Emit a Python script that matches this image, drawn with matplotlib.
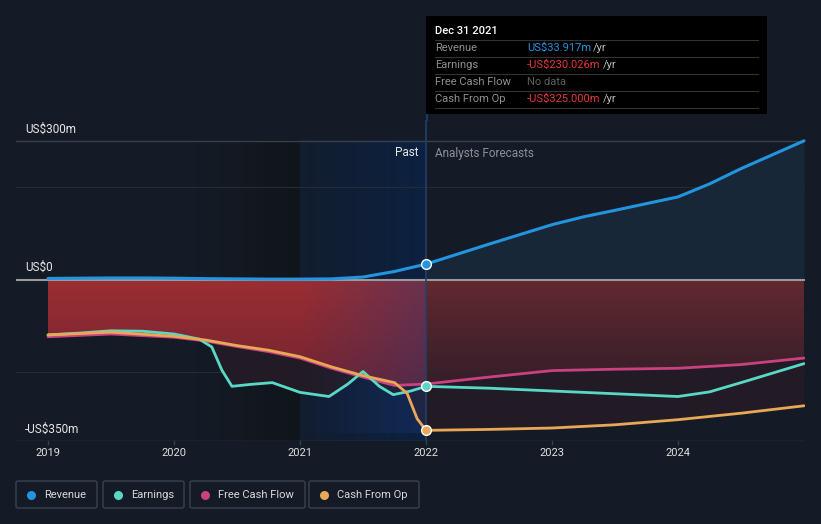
import matplotlib
matplotlib.use('Agg')
import matplotlib.pyplot as plt
import numpy as np
from matplotlib.patches import Rectangle, FancyBboxPatch, Polygon

plt.rcParams['font.family'] = ['Roboto', 'DejaVu Sans']

# data (US$ m)
rev_x = [2019.0, 2019.25, 2019.5, 2019.75, 2020.0, 2020.25, 2020.5, 2020.75, 2021.0, 2021.25, 2021.5, 2021.75, 2022.0,
         2022.5, 2023.0, 2023.25, 2023.5, 2024.0, 2024.25, 2024.5, 2025.0]
rev_y = [3, 3.5, 4, 4, 3.5, 2.5, 2, 1.5, 1.5, 2, 6, 18, 33.9,
         77, 119, 136, 150, 179, 207, 240, 300]

earn_x = [2019.0, 2019.25, 2019.5, 2019.75, 2020.0, 2020.2, 2020.3, 2020.38, 2020.46, 2020.6, 2020.78, 2021.0, 2021.23,
          2021.38, 2021.5, 2021.63, 2021.74, 2021.88, 2022.0, 2022.5, 2023.0, 2023.5, 2024.0, 2024.25, 2024.5, 2025.0]
earn_y = [-119, -115, -110, -111, -117, -128, -145, -195, -230, -226, -222, -243, -252,
          -225, -198, -230, -248, -240, -230, -234, -240, -246, -252, -242, -222, -181]

fcf_x = [2019.0, 2019.5, 2020.0, 2020.25, 2020.5, 2020.75, 2021.0, 2021.25, 2021.5, 2021.75, 2022.0,
         2022.5, 2023.0, 2023.5, 2024.0, 2024.5, 2025.0]
fcf_y = [-123, -117, -124, -132, -144, -155, -169, -191, -210, -228, -225,
         -210, -196, -193, -191, -183, -169]

cfo_x = [2019.0, 2019.5, 2020.0, 2020.25, 2020.5, 2020.75, 2021.0, 2021.25, 2021.5, 2021.75, 2021.85, 2021.93, 2022.0,
         2022.5, 2023.0, 2023.5, 2024.0, 2024.5, 2025.0]
cfo_y = [-119, -113, -122, -130, -142, -152, -166, -188, -207, -222, -245, -300, -325,
         -323, -320, -313, -302, -288, -272]

years = [2019, 2020, 2021, 2022, 2023, 2024]

BG = '#151b26'
C_REV = '#2394df'
C_EARN = '#5ad8c6'
C_FCF = '#c9417f'
C_CFO = '#e8a857'

W, H = 821, 524
fig = plt.figure(figsize=(W / 100, H / 100), dpi=100, facecolor=BG)


def fx(px):
    return px / W


def fy(py):
    return 1 - py / H


# axes: pixel x 16..805, pixel y 120..441
ax = fig.add_axes([fx(16), fy(441), fx(805) - fx(16), (441 - 120) / H])
ax.set_facecolor(BG)
x0 = 2019 - 32 / 126
x1 = 2019 + 757 / 126
ymin, ymax = -348, 345
ax.set_xlim(x0, x1)
ax.set_ylim(ymin, ymax)
for s in ax.spines.values():
    s.set_visible(False)
ax.set_xticks([])
ax.set_yticks([])

# past shading: dark band then blue gradient up to 2022
dark = np.clip(np.linspace(-0.2, 1, 60), 0, 1).reshape(1, -1)
ax.imshow(np.dstack([np.full_like(dark, 0.06), np.full_like(dark, 0.075), np.full_like(dark, 0.095), dark * 0.75]),
          extent=[2020.0, 2021.0, ymin, 300], aspect='auto', zorder=0.5)
blue = np.linspace(0, 1, 80).reshape(1, -1)
ax.imshow(np.dstack([np.full_like(blue, 0.04), np.full_like(blue, 0.14), np.full_like(blue, 0.28), 0.25 + blue * 0.55]),
          extent=[2021.0, 2022.0, ymin, 300], aspect='auto', zorder=0.6)

# grid lines
for v, c, lw in [(300, '#3a404b', 1.0), (200, '#262c36', 0.8), (-200, '#262c36', 0.8), (ymin + 1, '#3a404b', 1.0)]:
    ax.axhline(v, color=c, lw=lw, zorder=1)

# revenue fill (forecast)
rx = np.array(rev_x)
ry = np.array(rev_y)
ax.fill_between(rx, 0, ry, where=rx >= 2022, color='#172738', lw=0, zorder=1.2)

# red fill from zero down to free cash flow, with gradient
fxv = np.array(fcf_x)
fyv = np.array(fcf_y)
poly = Polygon(np.vstack([[[fxv[0], 0]], np.column_stack([fxv, fyv]), [[fxv[-1], 0]]]), closed=True,
               facecolor='none', edgecolor='none')
ax.add_patch(poly)
grad = np.linspace(1, 0, 100).reshape(-1, 1)


def grad_img(top, bot):
    top = np.array(top)
    bot = np.array(bot)
    return np.dstack([bot[0] + (top[0] - bot[0]) * grad, bot[1] + (top[1] - bot[1]) * grad,
                      bot[2] + (top[2] - bot[2]) * grad, np.full_like(grad, 1.0)])


im = ax.imshow(grad_img([0.61, 0.18, 0.20], [0.45, 0.14, 0.19]), extent=[2019, 2022, -230, 0],
               aspect='auto', zorder=1.3)
im.set_clip_path(poly)
im2 = ax.imshow(grad_img([0.39, 0.16, 0.19], [0.20, 0.12, 0.16]), extent=[2022, x1, -232, 0],
                aspect='auto', zorder=1.3)
im2.set_clip_path(poly)

# darker fill between fcf and lowest of earnings / cfo
grid_x = np.linspace(2019, 2025, 400)
fcf_g = np.interp(grid_x, fcf_x, fcf_y)
low = np.minimum(np.interp(grid_x, earn_x, earn_y), np.interp(grid_x, cfo_x, cfo_y))
ax.fill_between(grid_x, fcf_g, low, where=low < fcf_g, color='#221b25', lw=0, zorder=1.25)

# blue highlight overlay on past area fills
ax.imshow(np.dstack([np.full_like(blue, 0.12), np.full_like(blue, 0.22), np.full_like(blue, 0.48), blue * 0.38]),
          extent=[2021.0, 2022.0, -330, 0], aspect='auto', zorder=1.4)

# zero line
ax.axhline(0, color='#9a9a9e', lw=1.5, zorder=2)

# series lines
ax.plot(rev_x, rev_y, color=C_REV, lw=2.2, zorder=4, solid_capstyle='round', clip_on=False)
ax.plot(fcf_x, fcf_y, color=C_FCF, lw=2.0, zorder=3, solid_capstyle='round')
ax.plot(earn_x, earn_y, color=C_EARN, lw=2.0, zorder=3.2, solid_capstyle='round')
ax.plot(cfo_x, cfo_y, color=C_CFO, lw=2.0, zorder=3.4, solid_capstyle='round')

# past/forecast divider
ax.axvline(2022, color='#23406a', lw=1.2, zorder=2.5)
fig.add_artist(plt.Line2D([fx(427), fx(427)], [fy(114), fy(120)], color='#23406a', lw=1.2))

# markers at Dec 2021
for xv, yv, c in [(2022, 33.9, C_REV), (2022, -230, C_EARN), (2022, -325, C_CFO)]:
    ax.plot(xv, yv, 'o', ms=7, color=c, mec='white', mew=1, zorder=6, clip_on=False)

# x ticks
for yr in years:
    ax.plot([yr, yr], [ymin + 1, ymin - 6], color='#3a404b', lw=1, clip_on=False, zorder=2)
    fig.text(fx(48 + (yr - 2019) * 126), fy(453), str(yr), color='#e0e0e0', fontsize=8,
             ha='center', va='center')

# y labels
fig.text(fx(25), fy(129), 'US$300m', color='#e6e6e6', fontsize=8.5, va='center')
fig.text(fx(25), fy(267), 'US$0', color='#e6e6e6', fontsize=8.5, va='center')
fig.text(fx(25), fy(429), '-US$350m', color='#e6e6e6', fontsize=8.5, va='center')

fig.text(fx(418), fy(153), 'Past', color='#e6e6e6', fontsize=8.5, ha='right', va='center')
fig.text(fx(435), fy(153), 'Analysts Forecasts', color='#8c8f96', fontsize=8.5, ha='left', va='center')

# tooltip
fig.add_artist(Rectangle((fx(426), fy(114)), fx(767) - fx(426), (114 - 16) / H, facecolor='black',
                         edgecolor='none', transform=fig.transFigure, zorder=10))
fig.text(fx(435), fy(31), 'Dec 31 2021', color='white', fontsize=8, weight='medium', va='center', zorder=11)
for sy in [40, 57, 74, 91, 108]:
    fig.add_artist(plt.Line2D([fx(435), fx(758)], [fy(sy), fy(sy)], color='#333333', lw=0.8, zorder=11))
rows = [('Revenue', 'US$33.917m', C_REV, 593),
        ('Earnings', '-US$230.026m', '#e8383c', 603),
        ('Free Cash Flow', 'No data', '#5e5e5e', None),
        ('Cash From Op', '-US$325.000m', '#e8383c', 603)]
for i, (lab, val, col, yrx) in enumerate(rows):
    py = 48 + i * 17
    fig.text(fx(435), fy(py), lab, color='#8f8f8f', fontsize=8, va='center', zorder=11)
    fig.text(fx(527), fy(py), val, color=col, fontsize=8, va='center', zorder=11)
    if yrx:
        fig.text(fx(yrx), fy(py), '/yr', color='#bdbdbd', fontsize=8, va='center', zorder=11)

# legend boxes
legend = [('Revenue', C_REV, 16, 97), ('Earnings', C_EARN, 103, 184),
          ('Free Cash Flow', C_FCF, 190, 305), ('Cash From Op', C_CFO, 309, 419)]
for lab, col, bx0, bx1 in legend:
    fig.add_artist(FancyBboxPatch((fx(bx0), fy(508)), fx(bx1) - fx(bx0), 27 / H,
                                  boxstyle='round,pad=0,rounding_size=0.003', facecolor='none',
                                  edgecolor='#3c424d', lw=1, transform=fig.transFigure))
    fig.add_artist(plt.Line2D([fx(bx0 + 15)], [fy(494.5)], marker='o', ms=6.5, color=col, mew=0))
    fig.text(fx(bx0 + 28), fy(494.5), lab, color='#d8d8d8', fontsize=8, va='center')

fig.savefig('out.png', dpi=100, facecolor=BG)
